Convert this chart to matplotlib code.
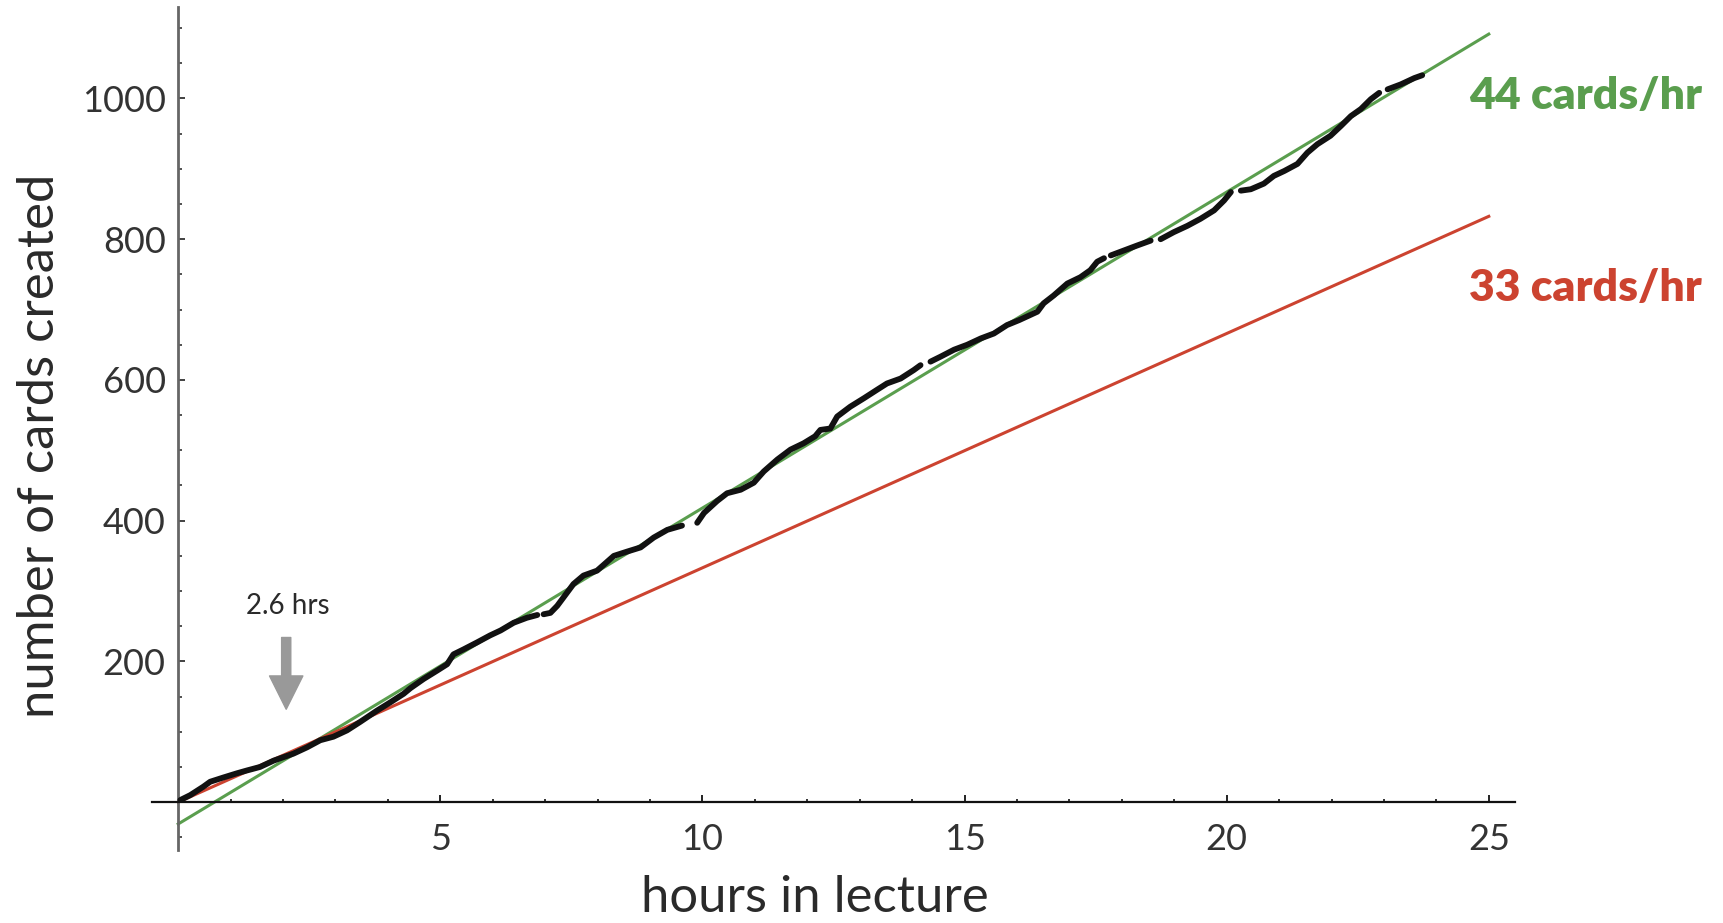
import numpy as np
import matplotlib
matplotlib.use("Agg")
import matplotlib.pyplot as plt
from matplotlib.ticker import FixedLocator

plt.rcParams['font.family'] = ['Lato', 'DejaVu Sans']

nan = np.nan

# (nan = visible gap in the trace)
hours = [0.04, 0.23, 0.48, 0.61, 0.86, 1.12, 1.31, 1.56, 1.82, 2.01, 2.20, 2.46,
         2.71, 2.96, 3.22, 3.47, 3.79, 4.05, 4.30, 4.43, 4.68, 4.94, 5.13, 5.25,
         5.44, 5.70, 5.95, 6.15, 6.40, 6.65, 6.85, nan, 6.97, 7.10, 7.23, 7.35,
         7.54, 7.73, 7.99, 8.31, 8.56, 8.82, 9.07, 9.33, 9.61, nan, 9.90, 10.03,
         10.28, 10.47, 10.73, 10.98, 11.17, 11.43, 11.68, 11.93, 12.15, 12.25,
         12.44, 12.57, 12.82, 13.08, 13.33, 13.52, 13.78, 14.03, 14.16, nan, 14.35,
         14.54, 14.80, 15.05, 15.31, 15.56, 15.81, 16.04, 16.39, 16.51, 16.70,
         16.96, 17.21, 17.40, 17.53, 17.66, nan, 17.79, 18.04, 18.29, 18.55, nan,
         18.74, 18.99, 19.25, 19.50, 19.76, 19.95, 20.08, nan, 20.27, 20.46, 20.71,
         20.90, 21.10, 21.35, 21.54, 21.73, 21.98, 22.18, 22.37, 22.56, 22.75,
         22.91, nan, 23.07, 23.32, 23.58, 23.73]
cards = [3, 10, 22, 29, 35, 41, 45, 50, 59, 64, 69, 78,
         88, 93, 102, 114, 130, 142, 154, 162, 175, 187, 196, 210,
         217, 227, 237, 244, 255, 262, 266, nan, 267, 269, 279, 291,
         310, 322, 329, 350, 356, 362, 376, 387, 393, nan, 397, 411,
         428, 439, 444, 454, 470, 487, 501, 510, 520, 529,
         531, 548, 562, 574, 586, 595, 602, 614, 621, nan, 626,
         633, 643, 650, 659, 666, 678, 685, 697, 709, 720,
         737, 746, 756, 768, 773, nan, 777, 784, 791, 798, nan,
         800, 810, 819, 829, 841, 855, 867, nan, 869, 871, 879,
         890, 897, 907, 923, 935, 947, 961, 975, 985, 999,
         1008, nan, 1013, 1020, 1029, 1033]

fit_x = [0, 25]
green_rate, green_offset = 44.9, -31
red_rate, red_offset = 33.3, 0
green_label = "44 cards/hr"
red_label = "33 cards/hr"
arrow_x, arrow_top, arrow_bottom = 2.06, 234, 132

green = '#5a9e4e'
red = '#cc4330'

fig = plt.figure(figsize=(17.23, 9.23), dpi=100)
ax = fig.add_axes([152 / 1723, 1 - 850 / 923, (1515 - 152) / 1723, (850 - 7) / 923])

fx = np.array(fit_x)
ax.plot(fx, green_rate * fx + green_offset, color=green, lw=2.2, zorder=2)
ax.plot(fx, red_rate * fx + red_offset, color=red, lw=2.2, zorder=2)
ax.plot(hours, cards, color='#111111', lw=4.2, solid_capstyle='round',
        solid_joinstyle='round', zorder=3)

ax.set_xlim(-0.5, 25.5)
ax.set_ylim(-68, 1130)

for s in ['top', 'right']:
    ax.spines[s].set_visible(False)
ax.spines['left'].set_position(('data', 0))
ax.spines['bottom'].set_position(('data', 0))
ax.spines['left'].set_color('#666666')
ax.spines['left'].set_linewidth(2)
ax.spines['bottom'].set_color('#111111')
ax.spines['bottom'].set_linewidth(1.6)

ax.xaxis.set_major_locator(FixedLocator([5, 10, 15, 20, 25]))
ax.xaxis.set_minor_locator(FixedLocator(range(1, 26)))
ax.yaxis.set_major_locator(FixedLocator([200, 400, 600, 800, 1000]))
ax.yaxis.set_minor_locator(FixedLocator(range(-50, 1101, 50)))

ax.tick_params(axis='x', which='major', direction='in', length=5, width=1.3,
               color='#111111', labelsize=26, labelcolor='#333333', pad=15)
ax.tick_params(axis='x', which='minor', direction='in', length=2.5, width=1.2,
               color='#111111')
ax.tick_params(axis='y', which='major', direction='in', length=5, width=1.3,
               color='#333333', labelsize=26, labelcolor='#333333', pad=9)
ax.tick_params(axis='y', which='minor', direction='in', length=3, width=1.2,
               color='#333333')

# labels placed at figure positions
fig.text(40 / 1723, 1 - 446 / 923, 'number of cards created', rotation=90,
         ha='center', va='center', fontsize=36.5, color='#2a2a2a')
fig.text(815 / 1723, 1 - 875 / 923, 'hours in lecture', ha='center', va='top',
         fontsize=36.5, color='#2a2a2a')

fig.text(1469 / 1723, 1 - 96 / 923, green_label, ha='left', va='center',
         fontsize=32, fontweight='heavy', color=green)
fig.text(1469 / 1723, 1 - 288 / 923, red_label, ha='left', va='center',
         fontsize=32, fontweight='heavy', color=red)

ax.text(2.1, 279, '2.6 hrs', ha='center', va='center', fontsize=20,
        color='#2a2a2a')
ax.annotate('', xy=(arrow_x, arrow_bottom), xytext=(arrow_x, arrow_top),
            arrowprops=dict(arrowstyle='simple,head_width=1.2,head_length=1.2,tail_width=0.33',
                            color='#999999', mutation_scale=20, shrinkA=0, shrinkB=0))

fig.savefig('out.png', dpi=100)
